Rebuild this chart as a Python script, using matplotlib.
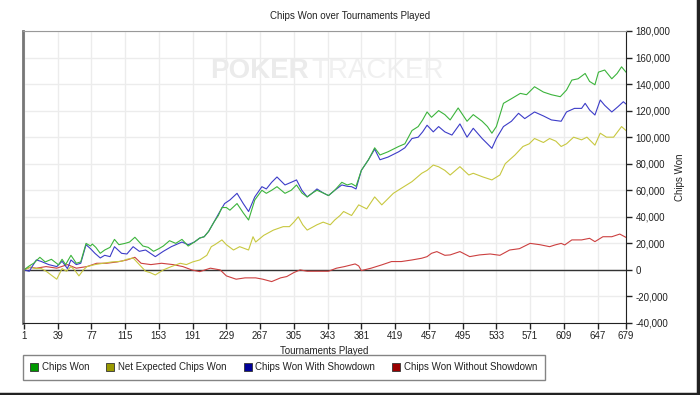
import numpy as np
import matplotlib.pyplot as plt
from matplotlib.lines import Line2D
from matplotlib.ticker import FuncFormatter

plt.rcParams['font.family'] = ['Liberation Sans', 'DejaVu Sans']

# values (chips, in thousands)
green_t = [1, 7, 12, 19, 25, 32, 40, 44, 48, 54, 60, 65, 71, 76, 78, 82, 87, 92, 98, 103,
           108, 115, 120, 126, 135, 141, 147, 153, 158, 165, 172, 179, 186, 193, 199, 204,
           209, 215, 220, 224, 229, 233, 241, 248, 254, 261, 269, 274, 280, 286, 295, 302,
           308, 314, 320, 326, 331, 338, 344, 351, 359, 365, 370, 375, 381, 389, 396, 402,
           411, 417, 423, 430, 438, 445, 450, 455, 460, 468, 475, 481, 490, 500, 507, 517,
           523, 528, 533, 541, 550, 560, 567, 576, 586, 595, 605, 612, 618, 625, 633, 638,
           644, 648, 655, 663, 669, 674, 679]
green_v = [0, 3, 5, 9.5, 6, 8, 3.8, 8, 4, 11, 5, 6, 20, 18, 19.5, 17, 12.5, 15, 17, 23,
           19, 20, 21, 24.6, 18, 17, 14, 16, 18, 22, 20, 23, 18, 21, 24, 25,
           29, 36, 41, 47, 47, 45, 50, 43, 37.6, 52.7, 60, 57.7, 60, 62.7, 57.7, 60,
           64, 58, 55, 58, 60, 58, 56, 60, 66, 64, 65, 63, 75, 83, 92, 86.6,
           89, 91, 93, 95, 105, 108, 113, 119, 115, 120, 117, 113, 122, 112, 117, 112,
           108, 103, 108, 125.5, 129, 133, 132, 138, 134, 132, 130.5, 135.5, 143, 144, 148, 142,
           139.5, 149, 150.6, 144, 148, 153, 149]

blue_t = [1, 7, 15, 20, 29, 38, 44, 50, 54, 60, 65, 71, 76, 81, 87, 92, 98, 103, 111, 117,
          124, 131, 138, 149, 158, 167, 179, 186, 193, 199, 204, 209, 215, 220, 227, 233,
          241, 248, 254, 261, 269, 274, 280, 286, 295, 302, 308, 314, 320, 326, 331, 338,
          344, 351, 359, 365, 370, 375, 381, 389, 396, 402, 411, 417, 423, 430, 438, 445,
          450, 455, 462, 468, 475, 483, 492, 500, 507, 517, 523, 528, 533, 541, 550, 558,
          565, 576, 586, 595, 606, 612, 621, 629, 633, 638, 644, 650, 655, 663, 670, 676, 679]
blue_v = [0, -1, 7.5, 6.5, 4, 2.5, 6.5, 1, 7.5, 4, 5, 19, 16, 12.5, 9, 11, 10, 17.5, 12.5, 12,
          17.5, 14, 15, 10, 14, 17.5, 21, 19, 21, 24, 25, 29, 36, 42, 50, 52.7,
          57.7, 50, 44, 55, 62.7, 61, 66, 70, 64, 66, 67.8, 60, 55, 58, 61, 58,
          56, 60, 64, 63, 62.7, 61, 75, 83, 91, 83, 85, 87, 89, 92, 99, 100,
          104, 109, 104, 108, 104, 101.6, 110, 100, 106.7, 99, 95, 91.6, 99, 108, 112, 118,
          114, 119, 116, 113, 112, 119, 121.7, 121.7, 125.5, 120.5, 116.7, 128, 124, 119, 123, 126.7, 125]

nexp_t = [1, 8, 15, 20, 26, 32, 38, 44, 49, 54, 58, 63, 68, 72, 81, 90, 100, 111, 117, 124,
          131, 138, 143, 149, 158, 167, 177, 184, 191, 199, 207, 212, 216, 224, 229, 237,
          244, 254, 259, 262, 271, 282, 293, 300, 305, 310, 315, 320, 331, 338, 346, 351,
          357, 361, 370, 378, 387, 396, 404, 410, 417, 426, 438, 449, 455, 462, 468, 475,
          481, 492, 502, 507, 518, 528, 537, 543, 554, 563, 570, 576, 586, 593, 600, 606,
          612, 620, 629, 635, 644, 650, 657, 665, 674, 679]
nexp_v = [0, 2, 1, 1.2, -1, -4, -7, 1, -1, 2.5, 0, -4.5, 0, 2.5, 4, 5, 6, 6.5, 8, 9,
          4, -1, -2, -3.8, 0, 2.5, 5, 4, 6, 7.5, 11, 17.5, 19, 22.6, 19, 15,
          17.5, 15, 25, 21, 26, 30, 32.6, 32.6, 36, 40, 34, 30, 34, 36, 34, 37.6,
          41, 44, 41, 49, 46, 55, 49, 53, 57.7, 61.5, 66.5, 72.8, 75, 79, 77.7, 75,
          71.5, 77.8, 71.5, 72.8, 70, 67.8, 71.5, 80, 86.6, 93, 95, 99, 96, 99, 97, 93,
          95, 100, 98, 100, 94, 103, 100, 100, 108, 105]

nosd_t = [1, 8, 15, 26, 38, 50, 60, 72, 83, 94, 106, 117, 126, 133, 144, 156, 169, 180, 190,
          199, 211, 222, 229, 240, 250, 262, 270, 280, 290, 297, 305, 312, 320, 331, 344,
          353, 362, 374, 378, 381, 392, 404, 415, 426, 438, 449, 455, 460, 466, 475, 481,
          492, 503, 514, 526, 537, 548, 559, 571, 582, 593, 599, 606, 610, 618, 629, 638,
          644, 653, 663, 672, 679]
nosd_v = [0, 2, 1.3, 2.5, 1.3, 4, 1.3, 2.5, 5, 5, 6, 7.5, 9.5, 5, 4, 5, 4, 2.5, 0,
          -1.3, 1.3, 0, -4.5, -7, -6, -6, -7, -8.8, -6, -5, -2, 0, -1, -1, -1,
          1.3, 2.5, 4.5, 3, -0.5, 1.3, 3.8, 6.3, 6.3, 7.5, 8.8, 10, 12.5, 13.8, 11, 11.3,
          13.8, 10, 11.3, 12, 11, 15, 16, 20, 19, 17.5, 18.8, 20, 18.8, 22.6, 22.6, 23.8,
          21.3, 25, 25, 27, 24.5]

xticks = [1, 39, 77, 115, 153, 191, 229, 267, 305, 343, 381, 419, 457, 495, 533, 571, 609, 647, 679]
yticks = [-40000, -20000, 0, 20000, 40000, 60000, 80000, 100000, 120000, 140000, 160000, 180000]

fig = plt.figure(figsize=(7, 3.95), dpi=100)
ax = fig.add_axes([23/700, 1-323/395, 603/700, 292/395])

ax.grid(True, color='#ececec', lw=1)
ax.set_axisbelow(True)

# watermark
ax.text(0.474, 0.862, 'POKER', transform=ax.transAxes, ha='right', va='center',
        fontsize=20, fontweight='bold', color='#ebebeb', zorder=0.5)
ax.text(0.479, 0.862, 'TRACKER', transform=ax.transAxes, ha='left', va='center',
        fontsize=20, color='#f0f0f0', zorder=0.5)

ax.axhline(0, color='#333333', lw=1)

ax.plot(nosd_t, np.array(nosd_v)*1000, color='#cc4040', lw=0.8)
ax.plot(nexp_t, np.array(nexp_v)*1000, color='#c8c840', lw=0.8)
ax.plot(blue_t, np.array(blue_v)*1000, color='#3c3cc8', lw=0.8)
ax.plot(green_t, np.array(green_v)*1000, color='#3cb43c', lw=0.8)

ax.set_xlim(0, 679)
ax.set_ylim(-40000, 180000)
ax.set_xticks(xticks)
ax.set_yticks(yticks)
ax.yaxis.set_major_formatter(FuncFormatter(lambda v, p: '{:,.0f}'.format(v)))
ax.yaxis.tick_right()
ax.yaxis.set_label_position('right')
ax.tick_params(axis='both', labelsize=7, colors='#222222', length=4, width=1, direction='out', pad=2)
ax.tick_params(axis='y', pad=3)

ax.spines['left'].set_color('#777777')
ax.spines['left'].set_linewidth(2)
ax.spines['top'].set_color('#999999')
ax.spines['right'].set_color('#222222')
ax.spines['bottom'].set_color('#222222')

ax.set_xlabel('Tournaments Played', fontsize=7, color='#222222', labelpad=3)
ax.set_ylabel('Chips Won', fontsize=7, color='#222222', labelpad=3)
fig.text(0.5, 1-16/395, 'Chips Won over Tournaments Played', ha='center', va='center',
         fontsize=7, color='#222222')

handles = [Line2D([], [], ls='none', marker='s', ms=6, mfc=c, mec='#333333', mew=0.6)
           for c in ['#009900', '#999900', '#000099', '#990000']]
labels = ['Chips Won', 'Net Expected Chips Won', 'Chips Won With Showdown', 'Chips Won Without Showdown']
leg = fig.legend(handles, labels, loc='upper left', bbox_to_anchor=(23/700, 1-355/395),
                 ncol=4, fontsize=7, frameon=True, fancybox=False, edgecolor='#666666',
                 handlelength=0.8, handletextpad=0.4, columnspacing=1.75, borderpad=0.75,
                 borderaxespad=0, labelcolor='#222222')
leg.get_frame().set_linewidth(1)

# outer frame (right and bottom edges)
fig.add_artist(Line2D([0, 1], [0.003, 0.003], transform=fig.transFigure, color='#222222', lw=2.5))
fig.add_artist(Line2D([0.997, 0.997], [0, 1], transform=fig.transFigure, color='#222222', lw=2.5))

fig.savefig('out.png', dpi=100)
